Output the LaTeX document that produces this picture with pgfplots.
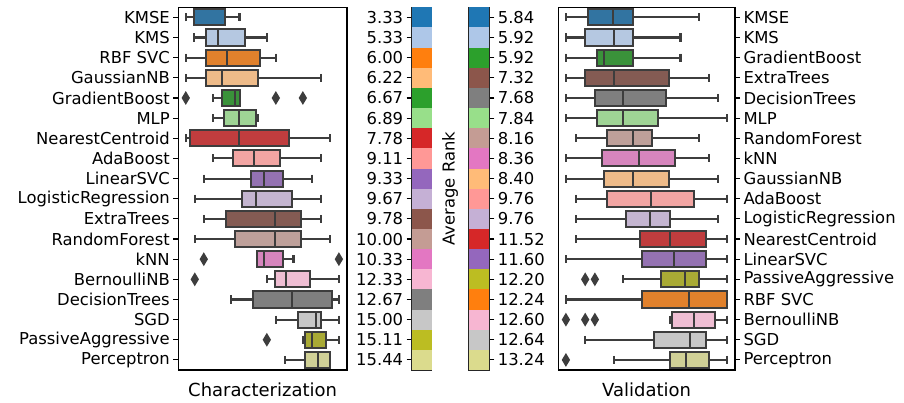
\documentclass[border=0pt]{standalone}
\usepackage{pgfplots}
\pgfplotsset{compat=1.18}
\usepgfplotslibrary{statistics}
\usepackage{fontspec}
\setmainfont{DejaVu Sans}
% tab20 (strips)
\definecolor{t1}{HTML}{1F77B4}\definecolor{t2}{HTML}{AEC7E8}
\definecolor{t3}{HTML}{FF7F0E}\definecolor{t4}{HTML}{FFBB78}
\definecolor{t5}{HTML}{2CA02C}\definecolor{t6}{HTML}{98DF8A}
\definecolor{t7}{HTML}{D62728}\definecolor{t8}{HTML}{FF9896}
\definecolor{t9}{HTML}{9467BD}\definecolor{t10}{HTML}{C5B0D5}
\definecolor{t11}{HTML}{8C564B}\definecolor{t12}{HTML}{C49C94}
\definecolor{t13}{HTML}{E377C2}\definecolor{t14}{HTML}{F7B6D2}
\definecolor{t15}{HTML}{7F7F7F}\definecolor{t16}{HTML}{C7C7C7}
\definecolor{t17}{HTML}{BCBD22}\definecolor{t18}{HTML}{DBDB8D}
% desaturated (boxes)
\definecolor{c1}{RGB}{50,116,161}\definecolor{c2}{RGB}{181,200,225}
\definecolor{c3}{RGB}{225,129,44}\definecolor{c4}{RGB}{238,187,137}
\definecolor{c5}{RGB}{58,146,58}\definecolor{c6}{RGB}{159,212,149}
\definecolor{c7}{RGB}{192,61,62}\definecolor{c8}{RGB}{242,165,163}
\definecolor{c9}{RGB}{148,114,178}\definecolor{c10}{RGB}{196,181,208}
\definecolor{c11}{RGB}{132,91,83}\definecolor{c12}{RGB}{190,160,154}
\definecolor{c13}{RGB}{214,133,189}\definecolor{c14}{RGB}{239,190,211}
\definecolor{c15}{RGB}{127,127,127}\definecolor{c16}{RGB}{199,199,199}
\definecolor{c17}{RGB}{169,170,53}\definecolor{c18}{RGB}{209,209,151}
\definecolor{edge}{RGB}{61,61,61}
\newcommand{\fs}{\fontsize{16.4}{19}\selectfont}
\newcommand{\fl}{\fontsize{18}{21}\selectfont}
\pgfplotsset{
  bp/.style={draw=edge, fill=#1, line width=2pt, solid,
    mark=diamond*, mark size=5pt,
    mark options={fill=edge, draw=none, xscale=0.8},
    boxplot/box extend=0.8, boxplot/whisker extend=0.4,
    boxplot/every whisker/.style={draw=edge, line width=2.1pt},
    boxplot/every median/.style={draw=edge, line width=2pt},
    boxplot/every box/.style={draw=edge, fill=#1, line width=2pt}},
  cell/.style={xbar, bar width=1, bar shift=0pt, fill=#1, draw=none},
  base/.style={scale only axis, font=\fs, y dir=reverse, ymin=-0.5, ymax=17.5,
    ytick={0,...,17}, xtick=\empty, tick align=outside, major tick length=5pt,
    axis line style={line width=1.1pt, black}, tick style={line width=1.1pt, black},
    every axis x label/.style={at={(axis description cs:0.5,0)}, anchor=base, yshift=-26.7pt, font=\fl},
    clip=false},
}
\begin{document}
\begin{tikzpicture}[x=1pt,y=1pt]
\useasboundingbox (0,0) rectangle (904,402);
% ---------------- Left boxplots
\begin{axis}[base, at={(178.3pt,32pt)}, anchor=south west, width=168.7pt, height=362.7pt,
  xmin=0.17, xmax=18.9, ytick pos=left, yticklabel pos=left,
  yticklabels={KMSE,KMS,RBF SVC,GaussianNB,GradientBoost,MLP,NearestCentroid,AdaBoost,LinearSVC,LogisticRegression,ExtraTrees,RandomForest,kNN,BernoulliNB,DecisionTrees,SGD,PassiveAggressive,Perceptron},
  xlabel={Characterization}]
\addplot[boxplot prepared={draw position=0, lower whisker=1, lower quartile=1.96, median=1.96, upper quartile=5.41, upper whisker=6.96}, bp=c1] coordinates {};
\addplot[boxplot prepared={draw position=1, lower whisker=1.96, lower quartile=3.26, median=4.63, upper quartile=7.56, upper whisker=10}, bp=c2] coordinates {};
\addplot[boxplot prepared={draw position=2, lower whisker=1, lower quartile=3.26, median=5.56, upper quartile=9.26, upper whisker=11}, bp=c3] coordinates {};
\addplot[boxplot prepared={draw position=3, lower whisker=1, lower quartile=3.26, median=5.0, upper quartile=9.07, upper whisker=16}, bp=c4] coordinates {};
\addplot[boxplot prepared={draw position=4, lower whisker=4, lower quartile=5, median=6.41, upper quartile=7.04, upper whisker=7.04}, bp=c5] coordinates {(0,1) (0,11) (0,14)};
\addplot[boxplot prepared={draw position=5, lower whisker=4, lower quartile=5.22, median=6.96, upper quartile=8.81, upper whisker=8.96}, bp=c6] coordinates {};
\addplot[boxplot prepared={draw position=6, lower whisker=1, lower quartile=1.48, median=6.89, upper quartile=12.44, upper whisker=17.04}, bp=c7] coordinates {};
\addplot[boxplot prepared={draw position=7, lower whisker=4, lower quartile=6.26, median=8.59, upper quartile=11.48, upper whisker=16}, bp=c8] coordinates {};
\addplot[boxplot prepared={draw position=8, lower whisker=3, lower quartile=8.22, median=9.7, upper quartile=11.78, upper whisker=15}, bp=c9] coordinates {};
\addplot[boxplot prepared={draw position=9, lower whisker=2, lower quartile=7.26, median=8.85, upper quartile=12.78, upper whisker=16}, bp=c10] coordinates {};
\addplot[boxplot prepared={draw position=10, lower whisker=3, lower quartile=5.48, median=10.93, upper quartile=13.78, upper whisker=16}, bp=c11] coordinates {};
\addplot[boxplot prepared={draw position=11, lower whisker=2, lower quartile=6.52, median=10.96, upper quartile=13.78, upper whisker=17.04}, bp=c12] coordinates {};
\addplot[boxplot prepared={draw position=12, lower whisker=9.07, lower quartile=8.96, median=9.7, upper quartile=11.78, upper whisker=12.96}, bp=c13] coordinates {(0,3) (0,18)};
\addplot[boxplot prepared={draw position=13, lower whisker=10, lower quartile=10.96, median=12.15, upper quartile=14.74, upper whisker=18}, bp=c14] coordinates {(0,2)};
\addplot[boxplot prepared={draw position=14, lower whisker=6, lower quartile=8.44, median=12.81, upper quartile=17.22, upper whisker=18}, bp=c15] coordinates {};
\addplot[boxplot prepared={draw position=15, lower whisker=11, lower quartile=13.44, median=15.48, upper quartile=16, upper whisker=18}, bp=c16] coordinates {};
\addplot[boxplot prepared={draw position=16, lower whisker=14, lower quartile=14.19, median=15, upper quartile=16.52, upper whisker=18}, bp=c17] coordinates {(0,10)};
\addplot[boxplot prepared={draw position=17, lower whisker=12, lower quartile=14.19, median=15.67, upper quartile=17.04, upper whisker=17.04}, bp=c18] coordinates {};
\end{axis}
% ---------------- Left strip
\begin{axis}[base, at={(411.7pt,32pt)}, anchor=south west, width=20pt, height=362.7pt,
  xmin=0, xmax=1, ytick pos=left, yticklabel pos=left, axis line style={line width=1.4pt, black!85},
  yticklabels={3.33,5.33,6.00,6.22,6.67,6.89,7.78,9.11,9.33,9.67,9.78,10.00,10.33,12.33,12.67,15.00,15.11,15.44}]
\addplot[cell=t1] coordinates {(1,0)};
\addplot[cell=t2] coordinates {(1,1)};
\addplot[cell=t3] coordinates {(1,2)};
\addplot[cell=t4] coordinates {(1,3)};
\addplot[cell=t5] coordinates {(1,4)};
\addplot[cell=t6] coordinates {(1,5)};
\addplot[cell=t7] coordinates {(1,6)};
\addplot[cell=t8] coordinates {(1,7)};
\addplot[cell=t9] coordinates {(1,8)};
\addplot[cell=t10] coordinates {(1,9)};
\addplot[cell=t11] coordinates {(1,10)};
\addplot[cell=t12] coordinates {(1,11)};
\addplot[cell=t13] coordinates {(1,12)};
\addplot[cell=t14] coordinates {(1,13)};
\addplot[cell=t15] coordinates {(1,14)};
\addplot[cell=t16] coordinates {(1,15)};
\addplot[cell=t17] coordinates {(1,16)};
\addplot[cell=t18] coordinates {(1,17)};
\end{axis}
% ---------------- Right strip
\begin{axis}[base, at={(469pt,32pt)}, anchor=south west, width=20.3pt, height=362.7pt,
  xmin=0, xmax=1, ytick pos=right, yticklabel pos=right, axis line style={line width=1.4pt, black!85},
  ylabel={Average Rank},
  every axis y label/.style={at={(axis description cs:-0.936,0.5)}, rotate=90, anchor=center},
  yticklabels={5.84,5.92,5.92,7.32,7.68,7.84,8.16,8.36,8.40,9.76,9.76,11.52,11.60,12.20,12.24,12.60,12.64,13.24}]
\addplot[cell=t1] coordinates {(1,0)};
\addplot[cell=t2] coordinates {(1,1)};
\addplot[cell=t5] coordinates {(1,2)};
\addplot[cell=t11] coordinates {(1,3)};
\addplot[cell=t15] coordinates {(1,4)};
\addplot[cell=t6] coordinates {(1,5)};
\addplot[cell=t12] coordinates {(1,6)};
\addplot[cell=t13] coordinates {(1,7)};
\addplot[cell=t4] coordinates {(1,8)};
\addplot[cell=t8] coordinates {(1,9)};
\addplot[cell=t10] coordinates {(1,10)};
\addplot[cell=t7] coordinates {(1,11)};
\addplot[cell=t9] coordinates {(1,12)};
\addplot[cell=t17] coordinates {(1,13)};
\addplot[cell=t3] coordinates {(1,14)};
\addplot[cell=t14] coordinates {(1,15)};
\addplot[cell=t16] coordinates {(1,16)};
\addplot[cell=t18] coordinates {(1,17)};
\end{axis}
% ---------------- Right boxplots
\begin{axis}[base, at={(558.3pt,32pt)}, anchor=south west, width=176.7pt, height=362.7pt,
  xmin=0.2, xmax=18.8, ytick pos=right, yticklabel pos=right,
  yticklabels={KMSE,KMS,GradientBoost,ExtraTrees,DecisionTrees,MLP,RandomForest,kNN,GaussianNB,AdaBoost,LogisticRegression,NearestCentroid,LinearSVC,PassiveAggressive,RBF SVC,BernoulliNB,SGD,Perceptron},
  xlabel={Validation}]
\addplot[boxplot prepared={draw position=0, lower whisker=1, lower quartile=3.28, median=5.98, upper quartile=8.01, upper whisker=15.02}, bp=c1] coordinates {};
\addplot[boxplot prepared={draw position=1, lower whisker=1, lower quartile=3.03, median=6.05, upper quartile=8.01, upper whisker=13.06}, bp=c2] coordinates {};
\addplot[boxplot prepared={draw position=2, lower whisker=1, lower quartile=4.29, median=5.0, upper quartile=8.01, upper whisker=13.06}, bp=c5] coordinates {};
\addplot[boxplot prepared={draw position=3, lower whisker=1, lower quartile=3.03, median=6.05, upper quartile=11.8, upper whisker=16.07}, bp=c11] coordinates {};
\addplot[boxplot prepared={draw position=4, lower whisker=1, lower quartile=4.05, median=7.03, upper quartile=11.5, upper whisker=17.05}, bp=c15] coordinates {};
\addplot[boxplot prepared={draw position=5, lower whisker=1, lower quartile=4.29, median=7.03, upper quartile=10.74, upper whisker=18}, bp=c6] coordinates {};
\addplot[boxplot prepared={draw position=6, lower whisker=2.05, lower quartile=5.28, median=8.08, upper quartile=10.04, upper whisker=15.02}, bp=c12] coordinates {};
\addplot[boxplot prepared={draw position=7, lower whisker=1, lower quartile=4.79, median=8.71, upper quartile=12.5, upper whisker=16.07}, bp=c13] coordinates {};
\addplot[boxplot prepared={draw position=8, lower whisker=1, lower quartile=5.03, median=8.01, upper quartile=11.8, upper whisker=17.05}, bp=c4] coordinates {};
\addplot[boxplot prepared={draw position=9, lower whisker=2.05, lower quartile=5.28, median=10.0, upper quartile=14.49, upper whisker=18}, bp=c8] coordinates {};
\addplot[boxplot prepared={draw position=10, lower whisker=2.05, lower quartile=7.31, median=9.9, upper quartile=12.0, upper whisker=17.05}, bp=c10] coordinates {};
\addplot[boxplot prepared={draw position=11, lower whisker=2.05, lower quartile=8.78, median=12.0, upper quartile=15.72, upper whisker=18}, bp=c7] coordinates {};
\addplot[boxplot prepared={draw position=12, lower whisker=1, lower quartile=9.06, median=12.36, upper quartile=15.72, upper whisker=18}, bp=c9] coordinates {};
\addplot[boxplot prepared={draw position=13, lower whisker=7.03, lower quartile=11.02, median=13.51, upper quartile=15.02, upper whisker=18}, bp=c17] coordinates {(0,3.03) (0,4.05)};
\addplot[boxplot prepared={draw position=14, lower whisker=1, lower quartile=9.06, median=13.97, upper quartile=18, upper whisker=18}, bp=c3] coordinates {};
\addplot[boxplot prepared={draw position=15, lower whisker=12.0, lower quartile=12.15, median=14.49, upper quartile=16.7, upper whisker=18}, bp=c14] coordinates {(0,1) (0,3.03) (0,4.05)};
\addplot[boxplot prepared={draw position=16, lower whisker=3.03, lower quartile=10.32, median=14.04, upper quartile=15.72, upper whisker=18}, bp=c16] coordinates {};
\addplot[boxplot prepared={draw position=17, lower whisker=6.08, lower quartile=12.0, median=13.62, upper quartile=16.04, upper whisker=18}, bp=c18] coordinates {(0,1)};
\end{axis}
\end{tikzpicture}
\end{document}
